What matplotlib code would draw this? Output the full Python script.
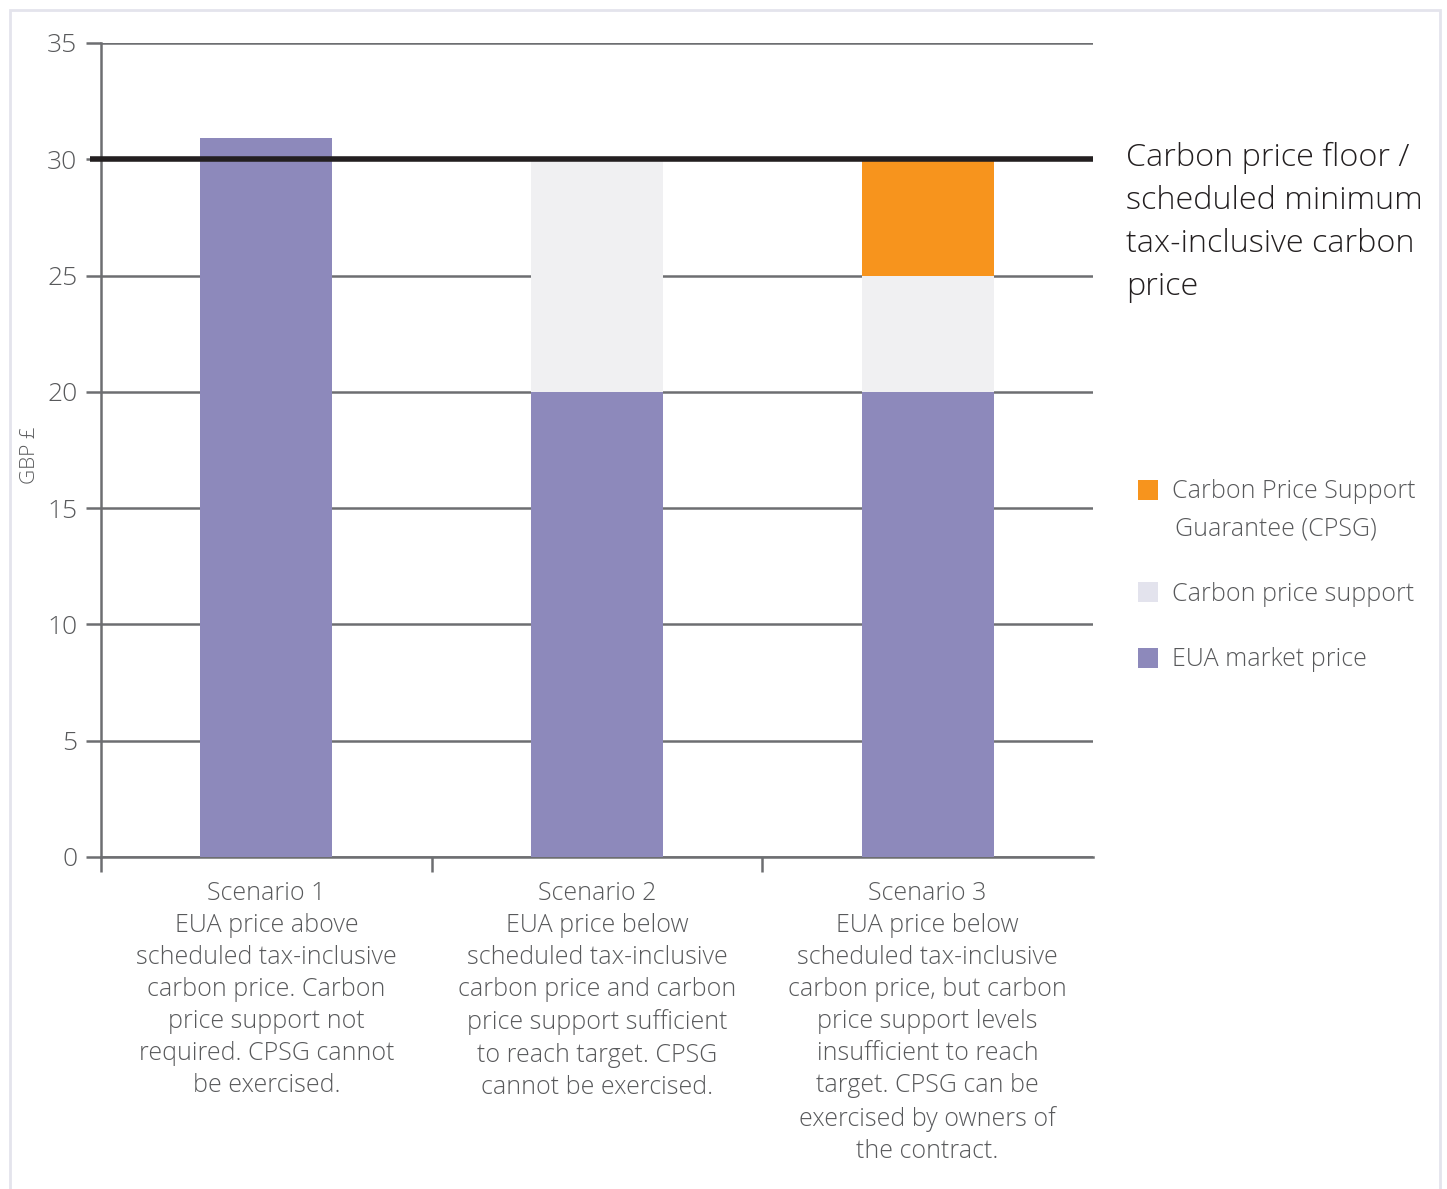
import matplotlib
matplotlib.use("Agg")
import matplotlib.pyplot as plt
from matplotlib.patches import Rectangle
import numpy as np

plt.rcParams['font.family'] = ['Open Sans', 'DejaVu Sans']

categories = [
    "Scenario 1\nEUA price above\nscheduled tax-inclusive\ncarbon price. Carbon\nprice support not\nrequired. CPSG cannot\nbe exercised.",
    "Scenario 2\nEUA price below\nscheduled tax-inclusive\ncarbon price and carbon\nprice support sufficient\nto reach target. CPSG\ncannot be exercised.",
    "Scenario 3\nEUA price below\nscheduled tax-inclusive\ncarbon price, but carbon\nprice support levels\ninsufficient to reach\ntarget. CPSG can be\nexercised by owners of\nthe contract.",
]
eua_market_price = [30.9, 20, 20]
carbon_price_support = [0, 10, 5]
cpsg = [0, 0, 5]
floor_price = 30
yticks = [0, 5, 10, 15, 20, 25, 30, 35]
series_names = ["EUA market price", "Carbon price support",
                "Carbon Price Support\nGuarantee (CPSG)"]

C_EUA = "#8d89bb"
C_SUP = "#f0f0f2"
C_SUP_LEG = "#e3e3ed"
C_CPSG = "#f7941d"
GRID = "#6d6e71"
TXT = "#58595b"

W, H = 1447, 1189
fig = plt.figure(figsize=(W / 100, H / 100), dpi=100)

# light border around the figure
fig.patches.append(Rectangle((10 / W, -0.01), 1430 / W, (H - 10) / H + 0.01,
                             transform=fig.transFigure, fill=False,
                             edgecolor="#e4e4ec", lw=2))

ax = fig.add_axes([101 / W, (H - 857) / H, (1093 - 101) / W, (857 - 43) / H])
x = np.arange(len(categories))
bw = 0.40
b1 = ax.bar(x, eua_market_price, bw, color=C_EUA, zorder=3)
bot2 = np.array(eua_market_price)
b2 = ax.bar(x, carbon_price_support, bw, bottom=bot2, color=C_SUP, zorder=3)
bot3 = bot2 + np.array(carbon_price_support)
b3 = ax.bar(x, cpsg, bw, bottom=bot3, color=C_CPSG, zorder=3)

ax.set_xlim(-0.5, 2.5)
ax.set_ylim(0, 35)
ax.set_yticks(yticks)
ax.set_yticklabels([str(v) for v in yticks], fontsize=19, color=TXT,
                   fontweight='light')
ax.yaxis.grid(True, color=GRID, lw=1.8, zorder=1)
ax.tick_params(axis='y', length=11, width=1.8, color=GRID, pad=6)
for s in ["top", "right"]:
    ax.spines[s].set_visible(False)
ax.spines["left"].set_color(GRID)
ax.spines["left"].set_linewidth(1.8)
ax.spines["bottom"].set_color(GRID)
ax.spines["bottom"].set_linewidth(1.8)

ax.set_xticks(x)
ax.set_xticklabels(categories, fontsize=18, color=TXT, linespacing=1.375,
                   va="top", fontweight='light')
ax.tick_params(axis='x', length=0, pad=17)
ax.set_xticks([-0.5, 0.5, 1.5], minor=True)
ax.tick_params(axis='x', which='minor', length=11, width=1.8, color=GRID)

# floor line
ax.axhline(floor_price, xmin=-11 / 992, xmax=1, color="#231f20", lw=4,
           zorder=4, clip_on=False, solid_capstyle='butt')

fig.text(30 / W, 1 - 455 / H, "GBP £", rotation=90, fontsize=15, color=TXT,
         ha="center", va="center", fontweight='light')

fig.text(1126 / W, 1 - 142 / H,
         "Carbon price floor /\nscheduled minimum\ntax-inclusive carbon\nprice",
         fontsize=23.3, color="#231f20", va="top", ha="left", linespacing=1.46,
         fontweight='light')

# legend (top entry first, as in the reference)
legend_items = [(series_names[2], C_CPSG, 490),
                (series_names[1], C_SUP_LEG, 592),
                (series_names[0], C_EUA, 658)]
for label, col, yc in legend_items:
    fig.patches.append(Rectangle((1138 / W, 1 - (yc + 10) / H), 20 / W, 20 / H,
                                 transform=fig.transFigure, facecolor=col,
                                 edgecolor="none"))
    fig.text(1172 / W, 1 - (yc - 1) / H, label.split("\n")[0], fontsize=18,
             color=TXT, ha="left", va="center_baseline", fontweight='light')
    if "\n" in label:
        fig.text(1175 / W, 1 - (yc + 36) / H, label.split("\n")[1], fontsize=18,
                 color=TXT, ha="left", va="center_baseline", fontweight='light')

fig.savefig("out.png", dpi=100)
